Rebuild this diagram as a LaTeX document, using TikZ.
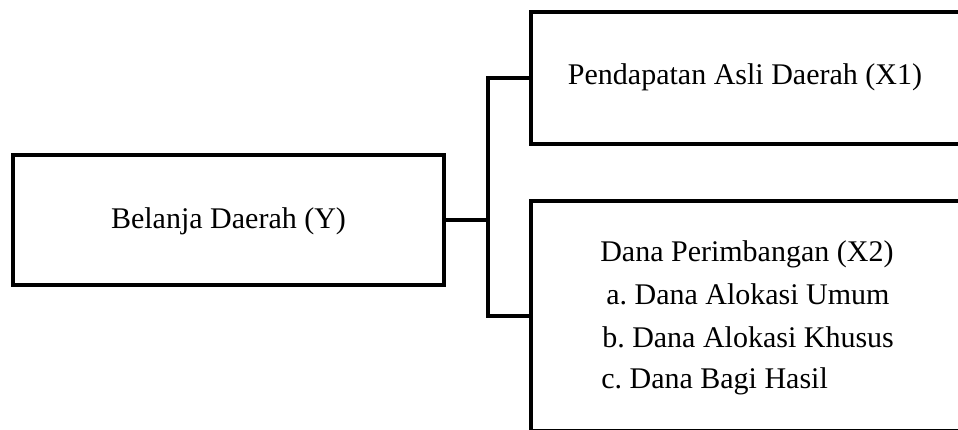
\documentclass[tikz,border=0pt]{standalone}
\usepackage{fontspec}
\setmainfont{Liberation Serif}
\frenchspacing
\begin{document}
\begin{tikzpicture}[x=0.75pt,y=-0.75pt,
  box/.style={draw=black,line width=3pt,rectangle,inner sep=0pt,outer sep=0pt},
  conn/.style={draw=black,line width=3pt,line join=miter},
  lbl/.style={inner sep=0pt,font=\fontsize{22.5}{27}\selectfont}]
\useasboundingbox (0,0) rectangle (958,429);
\fill[white] (0,0) rectangle (958,429);
\clip (0,0) rectangle (958,429);
% boxes
\node[box,minimum width=323.25pt,minimum height=97.5pt] (Y) at (228.5,220) {};
\node[box,anchor=west,minimum width=352.5pt,minimum height=98.8pt] (X1) at (531,78) {};
\node[box,anchor=west,minimum width=352.5pt,minimum height=172.5pt] (X2) at (531,316) {};
% texts
\node[lbl,anchor=base] (t0) at (228.5,228) {Belanja Daerah (Y)};
\node[lbl,anchor=base] (t1) at (745,84) {Pendapatan Asli Daerah (X1)};
\node[lbl,anchor=base west] (t2) at (600,261) {Dana Perimbangan (X2)};
\node[lbl,anchor=base west] (t2a) at (606,304) {a. Dana Alokasi Umum};
\node[lbl,anchor=base west] (t2b) at (602,347) {b. Dana Alokasi Khusus};
\node[lbl,anchor=base west] (t2c) at (601,388) {c. Dana Bagi Hasil};
% connectors
\coordinate (J) at (488,220);
\draw[conn] (Y.east) -- (J);
\draw[conn] (X1.west) -| (J) |- (X2.west);
\end{tikzpicture}
\end{document}
